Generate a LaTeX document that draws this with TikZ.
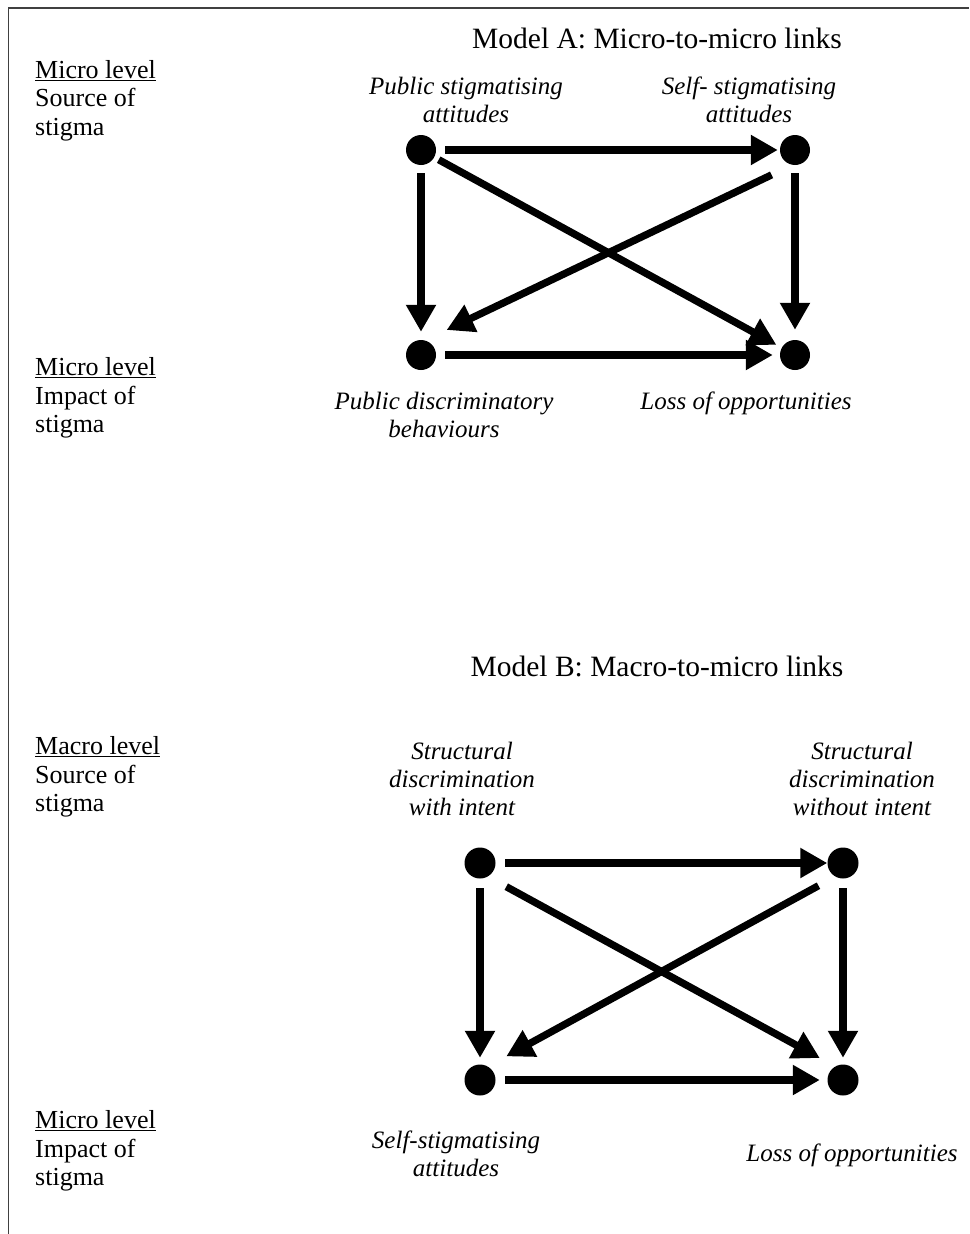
\documentclass[tikz,border=0pt]{standalone}
\usepackage{fontspec}
\setmainfont{Liberation Serif}
\usetikzlibrary{arrows.meta}
\begin{document}
\begin{tikzpicture}[x=1pt,y=-1pt,
  dotA/.style={circle,fill=black,inner sep=0pt,minimum size=30pt},
  dotB/.style={circle,fill=black,inner sep=0pt,minimum size=31pt},
  link/.style={line width=7.3pt,-{Triangle[length=27pt,width=28.5pt]}},
  ttl/.style={font=\fontsize{29.5}{34}\selectfont,inner sep=0pt,anchor=north},
  level/.style={font=\fontsize{26}{28.5}\selectfont,align=left,inner sep=0pt,anchor=north west},
  lab/.style={font=\fontsize{25}{28}\selectfont\itshape,align=center,inner sep=0pt,anchor=north}]
\useasboundingbox (0,0) rectangle (969,1234);
\draw[line width=1.6pt,black!75] (8.5,1234) -- (8.5,8) -- (969,8);

% ---------- Model A ----------
\node[ttl] (tA) at (657,28.2) {Model A: Micro-to-micro links};
\node[level] (lA1) at (35,60) {\underline{Micro level}\\Source of\\stigma};
\node[level] (lA2) at (35,357.6) {\underline{Micro level}\\Impact of\\stigma};

\node[dotA] (a1) at (421,150) {};
\node[dotA] (a2) at (795,150) {};
\node[dotA] (a3) at (421,355) {};
\node[dotA] (a4) at (795,355) {};

\node[lab] (ta1) at (466,77) {Public stigmatising\\attitudes};
\node[lab] (ta2) at (749,77) {Self- stigmatising\\attitudes};
\node[lab] (ta3) at (444,392) {Public discriminatory\\behaviours};
\node[lab] (ta4) at (746,392) {Loss of opportunities};

\draw[link,shorten <=9pt,shorten >=2pt] (a1) -- (a2);
\draw[link,shorten <=8pt,shorten >=8pt] (a1) -- (a3);
\draw[link,shorten <=8pt,shorten >=10pt] (a2) -- (a4);
\draw[link,shorten <=9pt,shorten >=7pt] (a3) -- (a4);
\draw[link,shorten <=5pt,shorten >=6pt] (a1) -- (a4);
\draw[link,shorten <=23pt,shorten >=24pt] (a2.-100) -- (a3.75);

% ---------- Model B ----------
\node[ttl] (tB) at (657,656.2) {Model B: Macro-to-micro links};
\node[level] (lB1) at (35,736.5) {\underline{Macro level}\\Source of\\stigma};
\node[level] (lB2) at (35,1110.6) {\underline{Micro level}\\Impact of\\stigma};

\node[dotB] (b1) at (480,863) {};
\node[dotB] (b2) at (843,863) {};
\node[dotB] (b3) at (480,1080) {};
\node[dotB] (b4) at (843,1080) {};

\node[lab] (tb1) at (462,742) {Structural\\discrimination\\with intent};
\node[lab] (tb2) at (862,742) {Structural\\discrimination\\without intent};
\node[lab] (tb3) at (456,1131) {Self-stigmatising\\attitudes};
\node[lab] (tb4) at (852,1144) {Loss of opportunities};

\draw[link,shorten <=9.5pt] (b1) -- (b2);
\draw[link,shorten <=9.5pt,shorten >=6.5pt] (b1) -- (b3);
\draw[link,shorten <=9.5pt,shorten >=6.5pt] (b2) -- (b4);
\draw[link,shorten <=9.5pt,shorten >=7.5pt] (b3) -- (b4);
\draw[link,shorten <=21pt,shorten >=17.5pt] (b1.-60) -- (b4.120);
\draw[link,shorten <=19pt,shorten >=21pt] (b2.-120) -- (b3.60);
\end{tikzpicture}
\end{document}
